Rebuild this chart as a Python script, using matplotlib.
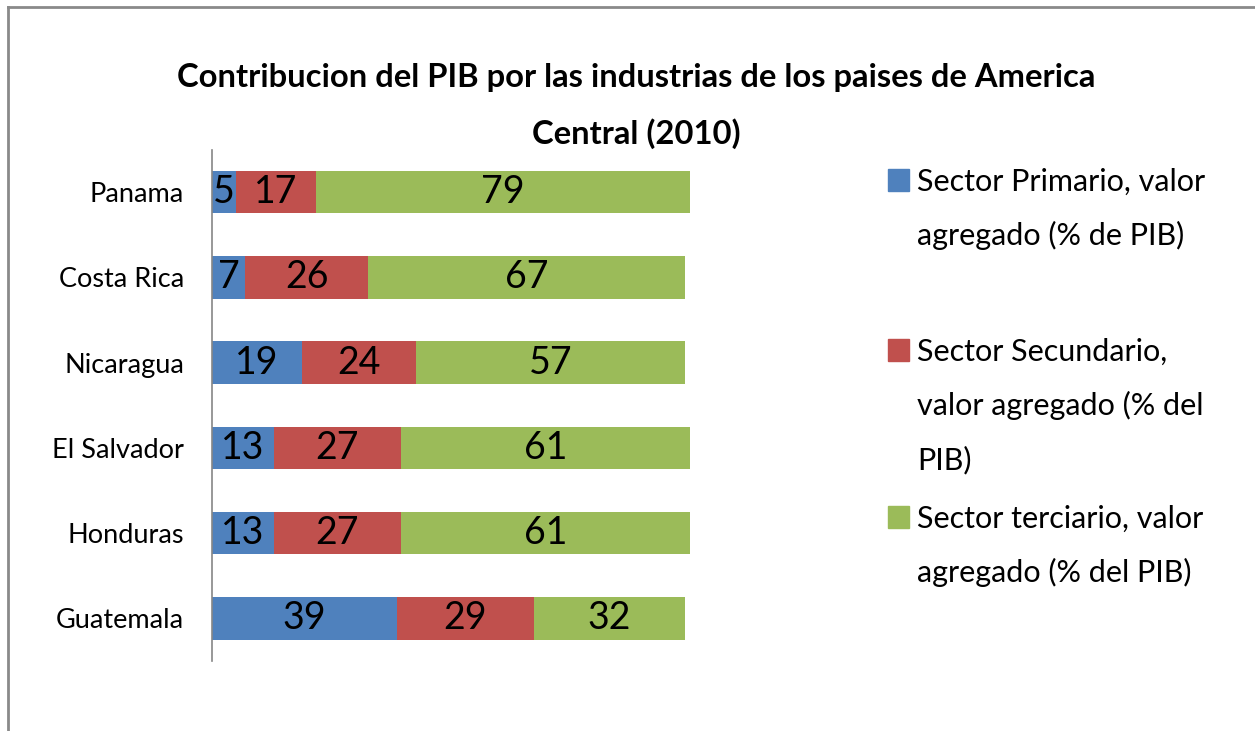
import matplotlib
matplotlib.use("Agg")
import matplotlib.pyplot as plt
from matplotlib.lines import Line2D
from matplotlib.patches import Rectangle
import numpy as np

plt.rcParams["font.family"] = ["Lato", "DejaVu Sans"]

countries = ["Panama", "Costa Rica", "Nicaragua", "El Salvador", "Honduras", "Guatemala"]
primario   = [5, 7, 19, 13, 13, 39]
secundario = [17, 26, 24, 27, 27, 29]
terciario  = [79, 67, 57, 61, 61, 32]

series_names = [
    "Sector Primario, valor\nagregado (% de PIB)",
    "Sector Secundario,\nvalor agregado (% del\nPIB)",
    "Sector terciario, valor\nagregado (% del PIB)",
]
colors = ["#4F81BD", "#C0504D", "#9BBB59"]

W, H = 1255, 731
fig = plt.figure(figsize=(W / 100, H / 100), dpi=100)
ax = fig.add_axes([212 / W, (H - 661) / H, (690 - 212) / W, 511.5 / H])

y = np.arange(len(countries))
left = np.zeros(len(countries))
for vals, c in zip([primario, secundario, terciario], colors):
    ax.barh(y, vals, left=left, height=0.5, color=c, clip_on=False)
    for yi, l, v in zip(y, left, vals):
        ax.text(l + v / 2, yi, str(v), ha="center", va="center", fontsize=27, color="black")
    left = left + np.array(vals)

ax.set_xlim(0, 101)
ax.set_ylim(len(countries) - 0.5, -0.5)
ax.set_yticks(y)
ax.set_yticklabels(countries, fontsize=19.5)
ax.tick_params(axis="y", length=0, pad=20)
ax.set_xticks([])
for s in ["top", "right", "bottom"]:
    ax.spines[s].set_visible(False)
ax.spines["left"].set_color("#868686")
ax.spines["left"].set_linewidth(1.2)

fig.text(0.507, 1 - 106 / H, "Contribucion del PIB por las industrias de los paises de America\nCentral (2010)",
         ha="center", va="center", fontsize=23.6, fontweight="bold", linespacing=2.05)

# legend drawn by hand to follow the original placement
legend_y = [180, 350, 517]
for name, c, ly in zip(series_names, colors, legend_y):
    fig.add_artist(Rectangle((888 / W, 1 - (ly + 11) / H), 21 / W, 22 / H,
                             transform=fig.transFigure, color=c))
    fig.text(917 / W, 1 - (ly - 12) / H, name, ha="left", va="top", fontsize=22, linespacing=2.05)

# outer frame
fig.add_artist(Line2D([8 / W, 1], [1 - 7 / H, 1 - 7 / H], color="#8a8a8a", lw=2, transform=fig.transFigure))
fig.add_artist(Line2D([8 / W, 8 / W], [1 - 7 / H, 0], color="#8a8a8a", lw=2, transform=fig.transFigure))

fig.savefig("out.png", dpi=100)
